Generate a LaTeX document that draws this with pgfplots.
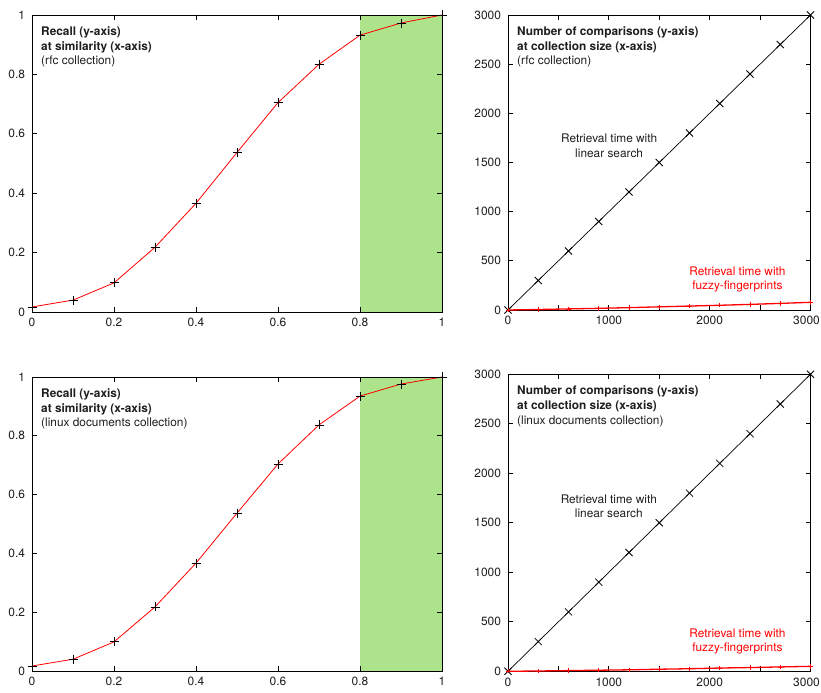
\documentclass[border=0pt]{standalone}
\usepackage{fontspec}
\setmainfont{TeX Gyre Heros}
\usepackage{pgfplots}
\pgfplotsset{compat=1.18}
\definecolor{shade}{RGB}{173,227,138}
\definecolor{txtgray}{RGB}{30,30,30}
\tikzset{
  ttl/.style={anchor=north west, align=left, font=\fontsize{11.9}{14.7}\selectfont, text=txtgray, inner sep=0pt},
  ann/.style={align=center, font=\fontsize{11.9}{14.7}\selectfont},
}
\pgfplotsset{
  gp/.style={
    scale only axis,
    anchor=south west,
    axis line style={line width=0.9bp, black},
    major tick style={line width=0.7bp, black},
    major tick length=5bp,
    tick align=inside,
    xtick pos=both, ytick pos=both,
    tick label style={font=\fontsize{12}{13}\selectfont, text=txtgray},
    /pgf/number format/assume math mode=true,
    /pgf/number format/1000 sep={},
    scaled ticks=false,
    yticklabel style={xshift=-3.5bp},
    xticklabel style={yshift=-3bp},
    clip=false,
  },
  recall/.style={gp, width=410bp, xmin=0, xmax=1, ymin=0, ymax=1,
    xtick={0,0.2,...,1}, ytick={0,0.2,...,1}, axis on top},
  comp/.style={gp, width=302.5bp, xmin=0, xmax=3000, ymin=0, ymax=3000,
    xtick={0,500,...,3000}, xticklabels={0,,1000,,2000,,\hspace*{-8bp}3000},
    ytick={0,500,...,3000}},
}
\begin{document}
\begin{tikzpicture}[x=1bp,y=1bp]
\path[use as bounding box] (0,0) rectangle (821,693);

% ---------- top left ----------
\begin{axis}[recall, height=297bp, at={(32bp,381bp)}]
\addplot[fill=shade, draw=none] coordinates {(0.8,1) (1,1)} \closedcycle;
\addplot[red, line width=0.8bp, mark=+, mark size=4.5bp, mark options={black, line width=0.8bp}]
  coordinates {(0,0.017) (0.1,0.04) (0.2,0.098) (0.3,0.218) (0.4,0.366) (0.5,0.537) (0.6,0.705) (0.7,0.834) (0.8,0.932) (0.9,0.973) (1,1)};
\node[ttl] at (rel axis cs:0,1) [xshift=9bp, yshift=-11.5bp] {\textbf{Recall (y-axis)}\\\textbf{at similarity (x-axis)}\\(rfc collection)};
\end{axis}

% ---------- top right ----------
\begin{axis}[comp, height=295bp, at={(508bp,383bp)}]
\addplot[black, line width=0.7bp, mark=x, mark size=5bp, mark options={line width=0.8bp}]
  coordinates {(0,0) (300,300) (600,600) (900,900) (1200,1200) (1500,1500) (1800,1800) (2100,2100) (2400,2400) (2700,2700) (3000,3000)};
\addplot[red, line width=1.3bp, mark=+, mark size=2.2bp, mark options={line width=0.8bp}]
  coordinates {(0,0) (300,5) (600,11) (900,17) (1200,24) (1500,32) (1800,40) (2100,48) (2400,57) (2700,67) (3000,78)};
\node[ttl] at (rel axis cs:0,1) [xshift=9bp, yshift=-11.5bp] {\textbf{Number of comparisons (y-axis)}\\\textbf{at collection size (x-axis)}\\(rfc collection)};
\node[ann, text=txtgray] at (axis cs:1003,1668) {Retrieval time with\\linear search};
\node[ann, text=red] at (axis cs:2275,310) {Retrieval time with\\fuzzy-fingerprints};
\end{axis}

% ---------- bottom left ----------
\begin{axis}[recall, height=294bp, at={(32bp,22bp)}]
\addplot[fill=shade, draw=none] coordinates {(0.8,1) (1,1)} \closedcycle;
\addplot[red, line width=0.8bp, mark=+, mark size=4.5bp, mark options={black, line width=0.8bp}]
  coordinates {(0,0.017) (0.1,0.04) (0.2,0.099) (0.3,0.218) (0.4,0.367) (0.5,0.537) (0.6,0.704) (0.7,0.837) (0.8,0.935) (0.9,0.976) (1,1)};
\node[ttl] at (rel axis cs:0,1) [xshift=9bp, yshift=-11.5bp] {\textbf{Recall (y-axis)}\\\textbf{at similarity (x-axis)}\\(linux documents collection)};
\end{axis}

% ---------- bottom right ----------
\begin{axis}[comp, height=297bp, at={(508bp,21.7bp)}]
\addplot[black, line width=0.7bp, mark=x, mark size=5bp, mark options={line width=0.8bp}]
  coordinates {(0,0) (300,300) (600,600) (900,900) (1200,1200) (1500,1500) (1800,1800) (2100,2100) (2400,2400) (2700,2700) (3000,3000)};
\addplot[red, line width=1.3bp, mark=+, mark size=2.2bp, mark options={line width=0.8bp}]
  coordinates {(0,0) (300,3) (600,7) (900,11) (1200,15) (1500,21) (1800,26) (2100,33) (2400,38) (2700,44) (3000,50)};
\node[ttl] at (rel axis cs:0,1) [xshift=9bp, yshift=-11.5bp] {\textbf{Number of comparisons (y-axis)}\\\textbf{at collection size (x-axis)}\\(linux documents collection)};
\node[ann, text=txtgray] at (axis cs:1000,1667) {Retrieval time with\\linear search};
\node[ann, text=red] at (axis cs:2275,303) {Retrieval time with\\fuzzy-fingerprints};
\end{axis}
\end{tikzpicture}
\end{document}
